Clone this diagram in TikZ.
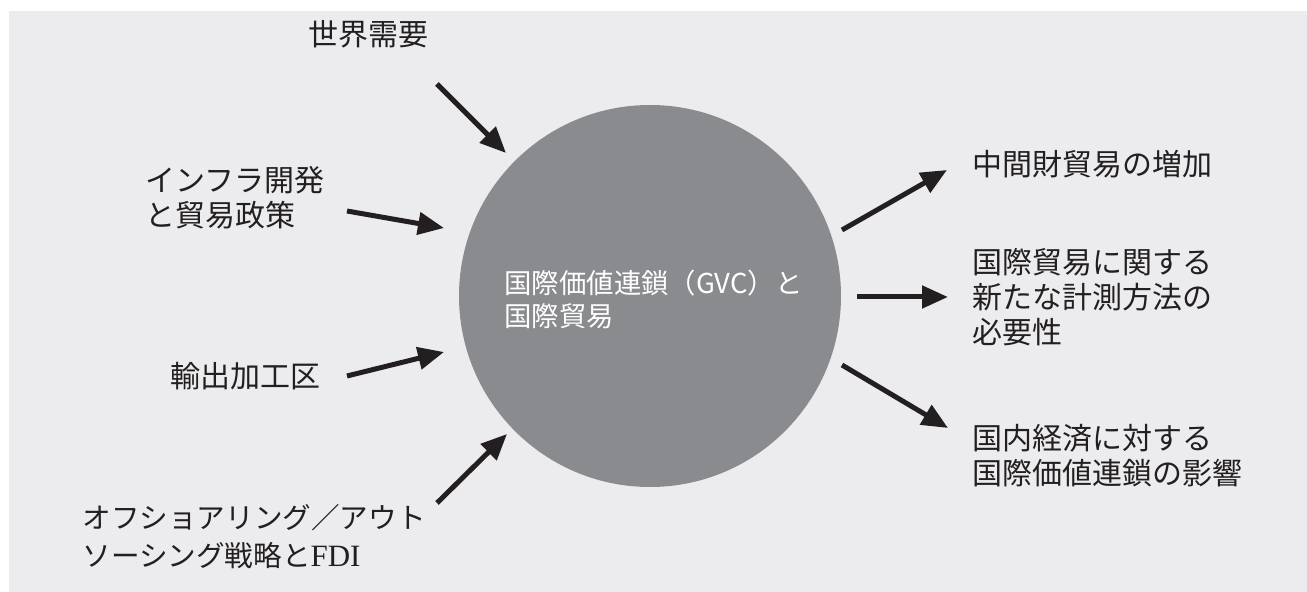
\documentclass[tikz,border=0pt]{standalone}
\usepackage{fontspec}
\setmainfont{Noto Sans CJK JP}
\newfontfamily\lserif{Liberation Serif}
\usetikzlibrary{arrows.meta}
\definecolor{bg}{HTML}{ECECEE}
\definecolor{disc}{HTML}{8A8B8E}
\definecolor{ink}{HTML}{231F20}
\begin{document}
\begin{tikzpicture}[x=0.5pt,y=-0.5pt,
  lbl/.style={text=ink, font=\fontsize{15pt}{17.5pt}\selectfont, inner sep=0pt, align=left, anchor=west},
  arr/.style={draw=ink, line width=2.5pt, -{Triangle[length=13pt,width=11pt]}}]
\useasboundingbox (0,0) rectangle (1307,592);
\fill[bg] (9,11) rectangle (1307,592);
\node[circle, fill=disc, minimum size=191pt, inner sep=0pt] (gvc) at (650,296) {};
\node[text=white, font=\fontsize{13.7pt}{16.5pt}\selectfont, inner sep=0pt, align=left, anchor=west] (gvctext) at (504,299) {国際価値連鎖（GVC）と\\国際貿易};
% left labels
\node[lbl, anchor=center] (demand) at (368,34) {世界需要};
\node[lbl] (infra) at (145,198) {インフラ開発\\と貿易政策};
\node[lbl] (epz) at (170,376) {輸出加工区};
\node[lbl, font=\fontsize{14.3pt}{19pt}\selectfont] (off) at (82,537) {オフショアリング／アウト\\ソーシング戦略と{\lserif\fontsize{15.5pt}{19pt}\selectfont FDI}};
% right labels
\node[lbl] (inter) at (972,164) {中間財貿易の増加};
\node[lbl] (meas) at (972,297) {国際貿易に関する\\新たな計測方法の\\必要性};
\node[lbl] (dom) at (972,456) {国内経済に対する\\国際価値連鎖の影響};
% arrow ends
\coordinate (a1s) at (437,84);  \coordinate (a1e) at (506,153);
\coordinate (a2s) at (347,211); \coordinate (a2e) at (444,228);
\coordinate (a3s) at (347,376); \coordinate (a3e) at (444,352);
\coordinate (a4s) at (437,503); \coordinate (a4e) at (507,434);
\coordinate (b1s) at (842,230); \coordinate (b1e) at (947,170);
\coordinate (b2s) at (857,297); \coordinate (b2e) at (948,297);
\coordinate (b3s) at (842,365); \coordinate (b3e) at (948,428);
\draw[arr] (a1s) -- (a1e);
\draw[arr] (a2s) -- (a2e);
\draw[arr] (a3s) -- (a3e);
\draw[arr] (a4s) -- (a4e);
\draw[arr] (b1s) -- (b1e);
\draw[arr] (b2s) -- (b2e);
\draw[arr] (b3s) -- (b3e);
\end{tikzpicture}
\end{document}
